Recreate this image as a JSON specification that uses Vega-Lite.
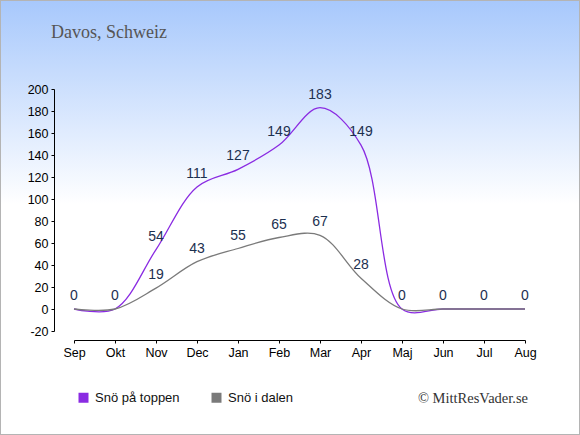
{
  "$schema": "https://vega.github.io/schema/vega-lite/v6.json",
  "width": 580,
  "height": 435,
  "autosize": "none",
  "padding": 0,
  "view": {
    "fill": {
      "gradient": "linear",
      "x1": 0, "y1": 0, "x2": 0, "y2": 1,
      "stops": [
        {"offset": 0, "color": "#a7c8fc"},
        {"offset": 0.47, "color": "#ffffff"},
        {"offset": 1, "color": "#ffffff"}
      ]
    },
    "stroke": "#b4b4b4",
    "strokeWidth": 2
  },
  "title": {
    "text": "Davos, Schweiz",
    "anchor": "start",
    "frame": "group",
    "offset": -56,
    "dx": 51,
    "baseline": "alphabetic",
    "font": "Liberation Serif",
    "fontSize": 18,
    "fontWeight": "normal",
    "color": "#555555"
  },
  "data": {
    "values": [
      {"month": "Sep", "serie": "Snö på toppen", "value": 0},
      {"month": "Okt", "serie": "Snö på toppen", "value": 0},
      {"month": "Nov", "serie": "Snö på toppen", "value": 54},
      {"month": "Dec", "serie": "Snö på toppen", "value": 111},
      {"month": "Jan", "serie": "Snö på toppen", "value": 127},
      {"month": "Feb", "serie": "Snö på toppen", "value": 149},
      {"month": "Mar", "serie": "Snö på toppen", "value": 183},
      {"month": "Apr", "serie": "Snö på toppen", "value": 149},
      {"month": "Maj", "serie": "Snö på toppen", "value": 0},
      {"month": "Jun", "serie": "Snö på toppen", "value": 0},
      {"month": "Jul", "serie": "Snö på toppen", "value": 0},
      {"month": "Aug", "serie": "Snö på toppen", "value": 0},
      {"month": "Sep", "serie": "Snö i dalen", "value": 0},
      {"month": "Okt", "serie": "Snö i dalen", "value": 0},
      {"month": "Nov", "serie": "Snö i dalen", "value": 19},
      {"month": "Dec", "serie": "Snö i dalen", "value": 43},
      {"month": "Jan", "serie": "Snö i dalen", "value": 55},
      {"month": "Feb", "serie": "Snö i dalen", "value": 65},
      {"month": "Mar", "serie": "Snö i dalen", "value": 67},
      {"month": "Apr", "serie": "Snö i dalen", "value": 28},
      {"month": "Maj", "serie": "Snö i dalen", "value": 0},
      {"month": "Jun", "serie": "Snö i dalen", "value": 0},
      {"month": "Jul", "serie": "Snö i dalen", "value": 0},
      {"month": "Aug", "serie": "Snö i dalen", "value": 0}
    ]
  },
  "layer": [
    {
      "mark": {"type": "line", "interpolate": "catmull-rom", "strokeWidth": 1.3},
      "encoding": {
        "x": {
          "field": "month",
          "type": "ordinal",
          "scale": {
            "type": "point",
            "domain": ["Sep", "Okt", "Nov", "Dec", "Jan", "Feb", "Mar", "Apr", "Maj", "Jun", "Jul", "Aug"],
            "range": [74, 525],
            "padding": 0
          },
          "sort": null,
          "axis": {
            "orient": "bottom",
            "offset": -95,
            "title": null,
            "labelAngle": 0,
            "grid": false,
            "tickSize": 3,
            "labelPadding": 3,
            "labelFontSize": 12.5,
            "labelColor": "#000000",
            "domainColor": "#000000",
            "tickColor": "#000000"
          }
        },
        "y": {
          "field": "value",
          "type": "quantitative",
          "scale": {"domain": [-20, 200], "range": [331, 89], "nice": false, "zero": false},
          "axis": {
            "orient": "left",
            "offset": -54,
            "title": null,
            "grid": false,
            "values": [-20, 0, 20, 40, 60, 80, 100, 120, 140, 160, 180, 200],
            "tickCount": 20,
            "labelExpr": "datum.value < 0 ? '-' + abs(datum.value) : '' + datum.value",
            "labelOverlap": false,
            "labelBound": false,
            "labelFlush": false,
            "tickSize": 3,
            "labelPadding": 3,
            "labelFontSize": 12.5,
            "labelColor": "#000000",
            "domainColor": "#000000",
            "tickColor": "#000000"
          }
        },
        "color": {
          "field": "serie",
          "type": "nominal",
          "scale": {"domain": ["Snö på toppen", "Snö i dalen"], "range": ["#8a2be2", "#7a7a7a"]},
          "legend": {
            "orient": "none",
            "legendX": 77,
            "legendY": 391,
            "direction": "horizontal",
            "title": null,
            "padding": 0,
            "symbolType": "square",
            "symbolSize": 16,
            "symbolStrokeWidth": 6,
            "labelFont": "Liberation Sans",
            "labelFontSize": 13,
            "labelColor": "#111111",
            "labelOffset": 5,
            "columnPadding": 22,
            "encoding": {
              "symbols": {
                "update": {
                  "fill": {"scale": "color", "field": "value"},
                  "stroke": {"scale": "color", "field": "value"},
                  "fillOpacity": {"value": 1},
                  "opacity": {"value": 1}
                }
              }
            }
          }
        }
      }
    },
    {
      "transform": [{"filter": "datum.serie == 'Snö på toppen' || datum.value > 0"}],
      "mark": {
        "type": "text",
        "baseline": "middle",
        "dy": -13,
        "fontSize": 14,
        "font": "Liberation Sans",
        "color": "#1c3050"
      },
      "encoding": {
        "x": {"field": "month", "type": "ordinal", "sort": null},
        "y": {"field": "value", "type": "quantitative"},
        "text": {"field": "value", "type": "quantitative"}
      }
    },
    {
      "data": {"values": [{"note": "© MittResVader.se"}]},
      "mark": {
        "type": "text",
        "align": "right",
        "baseline": "alphabetic",
        "dx": 3,
        "font": "Liberation Serif",
        "fontSize": 14.5,
        "color": "#333333"
      },
      "encoding": {
        "x": {"datum": "Aug"},
        "y": {"datum": -85},
        "text": {"field": "note", "type": "nominal"}
      }
    }
  ],
  "config": {
    "font": "Liberation Sans"
  }
}
